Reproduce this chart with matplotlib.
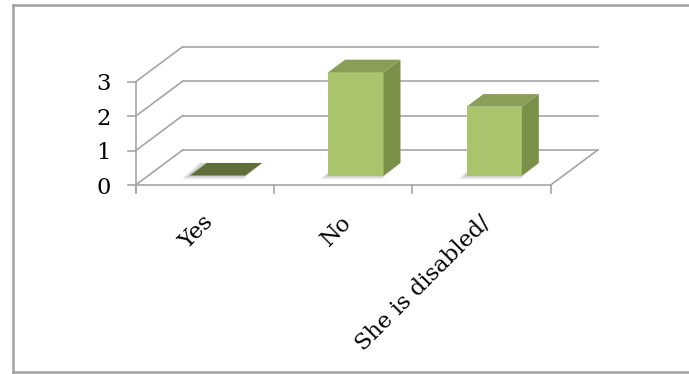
import matplotlib
matplotlib.use("Agg")
import matplotlib.pyplot as plt
from matplotlib.patches import Polygon
from matplotlib.lines import Line2D

# Data
categories = ["Yes", "No", "She is disabled/"]
values = [0, 3, 2]
y_ticks = [0, 1, 2, 3]

# Layout of the oblique (pseudo-3D) frame, in pixels
W, H = 689, 374
PX_CAT = 138.33        # pixels per category on the front plane
PX_VAL = 34.43         # pixels per value unit
X0_PX, Y0_PX = 135.7, 185.0   # front-left floor corner
DEPTH_PX = (47.0, 35.0)       # shift from front plane to back wall

KX = DEPTH_PX[0] / PX_CAT     # depth shift in data units
KY = DEPTH_PX[1] / PX_VAL

BAR_W = 0.40
D_FRONT, D_BACK = 0.27, 0.63

GRID = "#a6a6a6"
FACE = "#a9c46c"
SIDE = "#7a8f48"
TOP = "#8a9e58"
TOP_FLAT = "#5f6e38"
FS = 16.3

plt.rcParams["font.family"] = ["DejaVu Serif"]

fig = plt.figure(figsize=(W / 100, H / 100), dpi=100)
ax = fig.add_axes([0, 0, 1, 1])
ax.axis("off")
x_left = -0.5 - X0_PX / PX_CAT
ax.set_xlim(x_left, x_left + W / PX_CAT)
ax.set_ylim(-(H - Y0_PX) / PX_VAL, Y0_PX / PX_VAL)

n = len(categories)
xa, xb = -0.5, n - 0.5
lw = 1.2

def P(x, y, d):
    """Oblique projection of (category, value, depth) into the axes."""
    return (x + d * KX, y + d * KY)

# back wall gridlines and side wall diagonals
for t in y_ticks:
    ax.add_line(Line2D(*zip(P(xa, t, 1), P(xb, t, 1)), color=GRID, lw=lw, zorder=1))
    ax.add_line(Line2D(*zip(P(xa, t, 0), P(xa, t, 1)), color=GRID, lw=lw, zorder=1))
# floor front and right edges
ax.add_line(Line2D(*zip(P(xa, 0, 0), P(xb, 0, 0)), color=GRID, lw=lw, zorder=2))
ax.add_line(Line2D(*zip(P(xb, 0, 0), P(xb, 0, 1)), color=GRID, lw=lw, zorder=2))
# vertical axis with ticks
tick_len_y = 8 / PX_VAL
tick_len_x = 8 / PX_CAT
ax.add_line(Line2D([xa, xa], [-tick_len_y, max(y_ticks)], color=GRID, lw=lw, zorder=2))
for t in y_ticks:
    ax.add_line(Line2D([xa - tick_len_x, xa], [t, t], color=GRID, lw=lw, zorder=2))
    ax.text(-0.5 - (X0_PX - 111) / PX_CAT, t - 2.5 / PX_VAL, str(t),
            ha="right", va="center", fontsize=FS, color="black")
for k in range(n + 1):
    xt = xa + k
    ax.add_line(Line2D([xt, xt], [0, -tick_len_y], color=GRID, lw=lw, zorder=2))

# soft shadows at the base of the bars
for i, v in enumerate(values):
    xl, xr = i - BAR_W / 2, i + BAR_W / 2
    for s in range(1, 6):
        ex = s * 1.4 / PX_CAT
        ey = s * 0.8 / PX_VAL
        sx = -1.5 / PX_CAT
        pts = [P(xl - ex + sx, -ey, D_FRONT), P(xr - ex * 0.3, -ey, D_FRONT),
               P(xr, 0, D_BACK), P(xl - ex + sx, 0, D_BACK)]
        ax.add_patch(Polygon(pts, closed=True, facecolor="black", edgecolor="none",
                             alpha=0.045, zorder=3))

# bars
for i, v in enumerate(values):
    xl, xr = i - BAR_W / 2, i + BAR_W / 2
    front = [P(xl, 0, D_FRONT), P(xr, 0, D_FRONT), P(xr, v, D_FRONT), P(xl, v, D_FRONT)]
    side = [P(xr, 0, D_FRONT), P(xr, 0, D_BACK), P(xr, v, D_BACK), P(xr, v, D_FRONT)]
    top = [P(xl, v, D_FRONT), P(xr, v, D_FRONT), P(xr, v, D_BACK), P(xl, v, D_BACK)]
    if v > 0:
        ax.add_patch(Polygon(front, closed=True, facecolor=FACE, edgecolor="none", zorder=4))
        ax.add_patch(Polygon(side, closed=True, facecolor=SIDE, edgecolor="none", zorder=4))
        ax.add_patch(Polygon(top, closed=True, facecolor=TOP, edgecolor="none", zorder=4))
    else:
        ax.add_patch(Polygon(top, closed=True, facecolor=TOP_FLAT, edgecolor="none", zorder=4))

# category labels
for i, c in enumerate(categories):
    ax.text(i - 3 / PX_CAT, -(211 - Y0_PX) / PX_VAL, c, rotation=45,
            rotation_mode="anchor", ha="right", va="top", fontsize=FS, color="black")

# chart frame
bc = "#a0a0a0"
fx = lambda px: px / W
fy = lambda py: 1 - py / H
fig.add_artist(Line2D([fx(13), fx(13)], [fy(5), fy(372)], color=bc, lw=1.8,
                      transform=fig.transFigure))
fig.add_artist(Line2D([fx(13), 1.0], [fy(5), fy(5)], color=bc, lw=1.8,
                      transform=fig.transFigure))
fig.add_artist(Line2D([fx(13), 1.0], [fy(372), fy(372)], color=bc, lw=1.8,
                      transform=fig.transFigure))

fig.savefig("out.png", dpi=100)
